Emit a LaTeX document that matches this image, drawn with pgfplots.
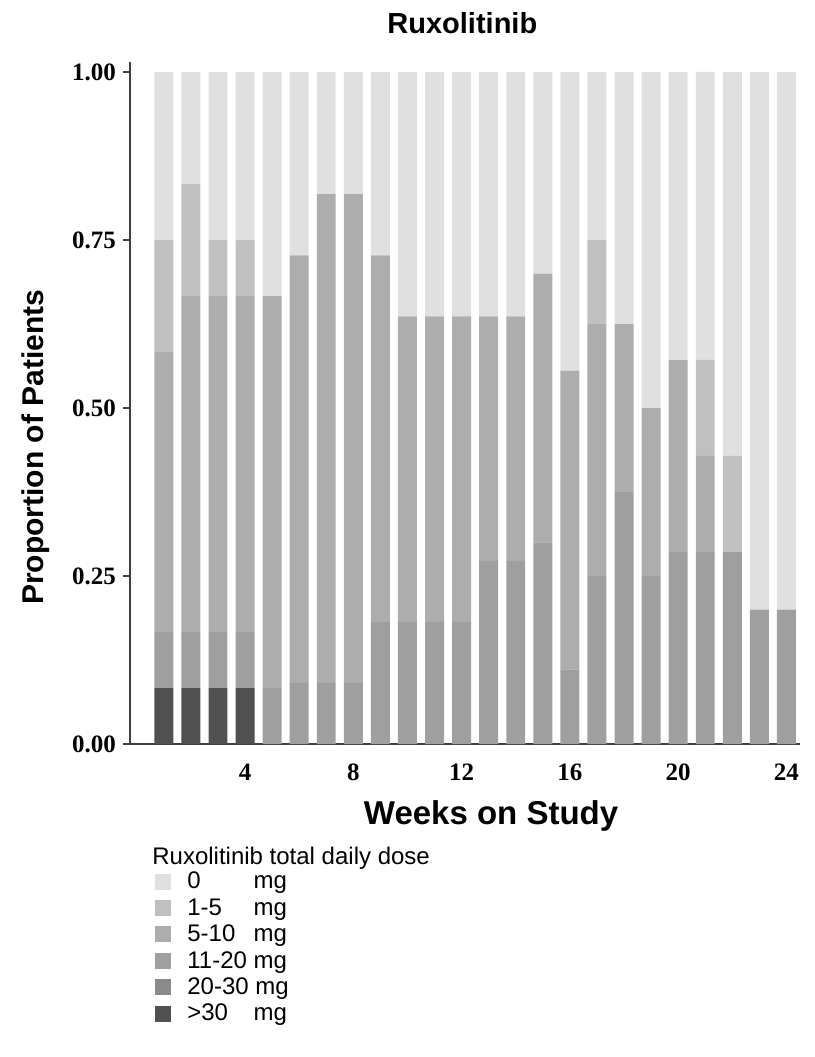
\documentclass[border=0pt]{standalone}
\usepackage{fontspec}
\setmainfont{Liberation Serif}
\newfontfamily\arial{Liberation Sans}
\usepackage{pgfplots}
\usepackage{pgfplotstable}
\pgfplotsset{compat=1.18}

\definecolor{dzero}{HTML}{E0E0E0}
\definecolor{dlow}{HTML}{C0C0C0}
\definecolor{dmid}{HTML}{ADADAD}
\definecolor{dhigh}{HTML}{9F9F9F}
\definecolor{dvhigh}{HTML}{8A8A8A}
\definecolor{dtop}{HTML}{505050}

% proportion of patients per dose group, weeks 1-24
\pgfplotstableread{
week gt30   d2030 d1120  d510   d15    d0
1    0.0833 0     0.0833 0.4167 0.1667 0.2500
2    0.0833 0     0.0833 0.5000 0.1667 0.1667
3    0.0833 0     0.0833 0.5000 0.0833 0.2500
4    0.0833 0     0.0833 0.5000 0.0833 0.2500
5    0      0     0.0833 0.5833 0      0.3333
6    0      0     0.0909 0.6364 0      0.2727
7    0      0     0.0909 0.7273 0      0.1818
8    0      0     0.0909 0.7273 0      0.1818
9    0      0     0.1818 0.5455 0      0.2727
10   0      0     0.1818 0.4545 0      0.3636
11   0      0     0.1818 0.4545 0      0.3636
12   0      0     0.1818 0.4545 0      0.3636
13   0      0     0.2727 0.3636 0      0.3636
14   0      0     0.2727 0.3636 0      0.3636
15   0      0     0.3000 0.4000 0      0.3000
16   0      0     0.1111 0.4444 0      0.4444
17   0      0     0.2500 0.3750 0.1250 0.2500
18   0      0     0.3750 0.2500 0      0.3750
19   0      0     0.2500 0.2500 0      0.5000
20   0      0     0.2857 0.2857 0      0.4286
21   0      0     0.2857 0.1429 0.1429 0.4286
22   0      0     0.2857 0      0.1429 0.5714
23   0      0     0.2000 0      0      0.8000
24   0      0     0.2000 0      0      0.8000
}\dosetable

\begin{document}
\begin{tikzpicture}
\path[use as bounding box] (-65pt,-156.5pt) rectangle (342.5pt,372pt);
\begin{axis}[
    scale only axis,
    width=335pt, height=341pt,
    xmin=-0.25, xmax=24.5,
    ymin=0, ymax=1.0149,
    clip=false,
    ybar stacked,
    bar width=0.7,
    axis x line=bottom, axis y line=left,
    axis line style={-, line width=0.8pt, black!75},
    xtick={4,8,12,16,20,24},
    ytick={0,0.25,0.5,0.75,1},
    xtick style={draw=none},
    ytick style={black!75, line width=0.8pt},
    tick align=outside,
    major tick length=3.5pt,
    /pgf/number format/assume math mode=true,
    ticklabel style={font=\bfseries\fontsize{12.5}{14}\selectfont},
    xticklabel style={anchor=north, text height=8.5pt, text depth=0pt, yshift=-2.5pt},
    yticklabel style={/pgf/number format/.cd, fixed, fixed zerofill, precision=2},
    title={Ruxolitinib},
    title style={font=\arial\bfseries\fontsize{14.5}{16}\selectfont, at={(axis description cs:0.496,1.0396)}, anchor=center},
    xlabel={Weeks on Study},
    xlabel style={font=\arial\bfseries\fontsize{16.5}{19}\selectfont, at={(axis description cs:0.539,-0.1056)}, anchor=center},
    ylabel={Proportion of Patients},
    ylabel style={font=\arial\bfseries\fontsize{15}{18}\selectfont, at={(axis description cs:-0.14,0.435)}, anchor=center},
    reverse legend,
    legend image code/.code={\fill[#1] (0pt,-3pt) rectangle (8pt,5pt); \path (14.5pt,0pt);},
    legend style={draw=none, fill=none, at={(axis description cs:0.0373,-0.1848)}, anchor=north west,
        font=\arial\fontsize{12}{13}\selectfont, row sep=0pt, inner sep=0pt,
        nodes={inner sep=1.5pt, text height=7.7pt, text depth=2.5pt}},
    legend cell align=left,
]
\addplot[fill=dtop, draw=none] table[x=week, y=gt30] {\dosetable};
\addlegendentry{\rlap{>30}\hphantom{11-20}\ mg}
\addplot[fill=dvhigh, draw=none] table[x=week, y=d2030] {\dosetable};
\addlegendentry{20-30 mg}
\addplot[fill=dhigh, draw=none] table[x=week, y=d1120] {\dosetable};
\addlegendentry{11-20 mg}
\addplot[fill=dmid, draw=none] table[x=week, y=d510] {\dosetable};
\addlegendentry{\rlap{5-10}\hphantom{11-20}\ mg}
\addplot[fill=dlow, draw=none] table[x=week, y=d15] {\dosetable};
\addlegendentry{\rlap{1-5}\hphantom{11-20}\ mg}
\addplot[fill=dzero, draw=none] table[x=week, y=d0] {\dosetable};
\addlegendentry{\rlap{0}\hphantom{11-20}\ mg}
\node[anchor=west, inner sep=0pt, font=\arial\fontsize{12}{13}\selectfont] at (axis description cs:0.0328,-0.167) {Ruxolitinib total daily dose};
\end{axis}
\end{tikzpicture}
\end{document}
